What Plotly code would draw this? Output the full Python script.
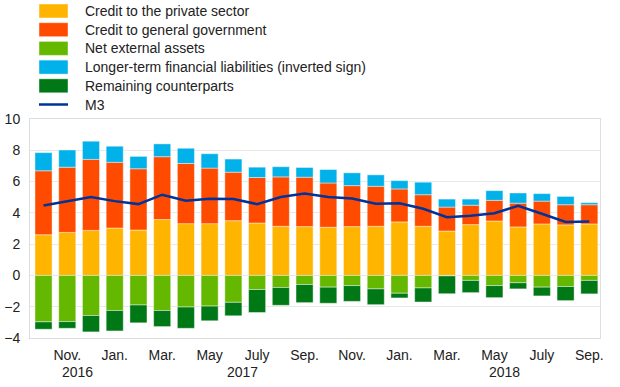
import plotly.graph_objects as go

months = ["Oct 2016", "Nov 2016", "Dec 2016", "Jan 2017", "Feb 2017", "Mar 2017", "Apr 2017",
          "May 2017", "Jun 2017", "Jul 2017", "Aug 2017", "Sep 2017", "Oct 2017", "Nov 2017",
          "Dec 2017", "Jan 2018", "Feb 2018", "Mar 2018", "Apr 2018", "May 2018", "Jun 2018",
          "Jul 2018", "Aug 2018", "Sep 2018"]

private = [2.60, 2.75, 2.88, 3.03, 2.90, 3.57, 3.31, 3.31, 3.50, 3.35, 3.14, 3.12,
           3.08, 3.12, 3.14, 3.42, 3.14, 2.84, 3.25, 3.48, 3.10, 3.29, 3.23, 3.29]
government = [4.09, 4.17, 4.54, 4.20, 3.92, 4.02, 3.85, 3.55, 3.10, 2.91, 3.16, 3.16,
              2.83, 2.62, 2.56, 2.11, 2.02, 1.53, 1.24, 1.32, 1.52, 1.46, 1.29, 1.23]
net_external = [-2.97, -2.95, -2.56, -2.24, -1.89, -2.24, -2.02, -1.96, -1.72, -0.90, -0.77, -0.58,
                -0.75, -0.65, -0.86, -1.14, -0.80, -0.03, -0.32, -0.65, -0.47, -0.75, -0.71, -0.32]
longer_term = [1.16, 1.10, 1.16, 1.03, 0.79, 0.82, 0.97, 0.92, 0.84, 0.66, 0.65, 0.62,
               0.86, 0.82, 0.73, 0.53, 0.80, 0.51, 0.39, 0.62, 0.65, 0.48, 0.53, 0.13]
remaining = [-0.47, -0.43, -1.05, -1.31, -1.14, -1.03, -1.36, -0.94, -0.86, -1.47, -1.14, -1.16,
             -1.03, -1.01, -1.01, -0.30, -0.90, -1.14, -0.78, -0.77, -0.39, -0.56, -0.90, -0.86]
m3 = [4.47, 4.73, 5.01, 4.75, 4.56, 5.16, 4.77, 4.90, 4.88, 4.56, 5.01, 5.23,
      5.01, 4.92, 4.58, 4.62, 4.26, 3.72, 3.81, 3.98, 4.45, 3.94, 3.42, 3.44]

tick_idx = [1, 3, 5, 7, 9, 11, 13, 15, 17, 19, 21, 23]
tick_text = ["Nov.", "Jan.", "Mar.", "May", "July", "Sep.",
             "Nov.", "Jan.", "Mar.", "May", "July", "Sep."]
year_labels = ["2016", "2017", "2018"]
year_pos = [1.43, 8.38, 19.41]

series = [
    ("Credit to the private sector", private, "#FFB400"),
    ("Credit to general government", government, "#FF4B00"),
    ("Net external assets", net_external, "#65B800"),
    ("Longer-term financial liabilities (inverted sign)", longer_term, "#00B1EA"),
    ("Remaining counterparts", remaining, "#007816"),
]
m3_color = "#003299"

x = list(range(len(months)))
fig = go.Figure()
for name, vals, col in series:
    fig.add_trace(go.Bar(x=x, y=vals, name=name, marker_color=col,
                         marker_line=dict(width=0.8, color="rgba(255,255,255,0.55)"),
                         hovertext=months, showlegend=False))
fig.add_trace(go.Scatter(x=x, y=m3, name="M3", mode="lines",
                         line=dict(color=m3_color, width=2.5), showlegend=False))

# manual legend (wide swatches as in the reference)
L, T, W, H = 30, 119, 570, 219
def px(v): return (v - L) / W
def py(v): return (T + H - v) / H
row0, step = 11, 18.7
items = [(n, c, "bar") for n, _, c in series] + [("M3", m3_color, "line")]
shapes, annots = [], []
for i, (n, c, kind) in enumerate(items):
    cy = row0 + i * step
    if kind == "bar":
        shapes.append(dict(type="rect", xref="paper", yref="paper",
                           x0=px(39), x1=px(68), y0=py(cy - 7), y1=py(cy + 7),
                           fillcolor=c, line=dict(width=0.8, color="rgba(255,255,255,0.55)")))
    else:
        shapes.append(dict(type="line", xref="paper", yref="paper",
                           x0=px(39), x1=px(68), y0=py(cy), y1=py(cy),
                           line=dict(color=c, width=2.5)))
    annots.append(dict(text=n, xref="paper", yref="paper", x=px(83), y=py(cy),
                       xanchor="left", yanchor="middle", showarrow=False,
                       font=dict(size=14, color="#222")))
for yl, yp in zip(year_labels, year_pos):
    annots.append(dict(text=yl, xref="x", yref="paper", x=yp, y=py(372),
                       xanchor="center", yanchor="middle", showarrow=False,
                       font=dict(size=14, color="#222")))

fig.update_layout(
    width=620, height=387,
    margin=dict(l=L, r=620 - L - W, t=T, b=387 - T - H, autoexpand=False),
    barmode="relative", bargap=0.28,
    plot_bgcolor="white", paper_bgcolor="white",
    font=dict(family="Liberation Sans, Arial, sans-serif", size=14, color="#222"),
    shapes=shapes, annotations=annots,
    showlegend=False,
)
fig.update_xaxes(range=[-0.57, 23.45], tickmode="array", tickvals=tick_idx, ticktext=tick_text,
                 showgrid=False, showline=True, mirror=True, linecolor="#dedede", linewidth=1,
                 ticks="", tickfont=dict(size=14), zeroline=False, automargin=False,
                 ticklabelstandoff=4)
fig.update_yaxes(range=[-4, 10], dtick=2, showgrid=True, gridcolor="#e8e8e8", gridwidth=1,
                 showline=True, mirror=True, linecolor="#dedede", linewidth=1,
                 zeroline=False, ticks="", tickfont=dict(size=14), automargin=False,
                 ticklabelstandoff=6)

fig.write_html("out.html", config={"displayModeBar": False},
               post_script="document.body.style.margin='0';document.body.style.overflow='hidden';")
